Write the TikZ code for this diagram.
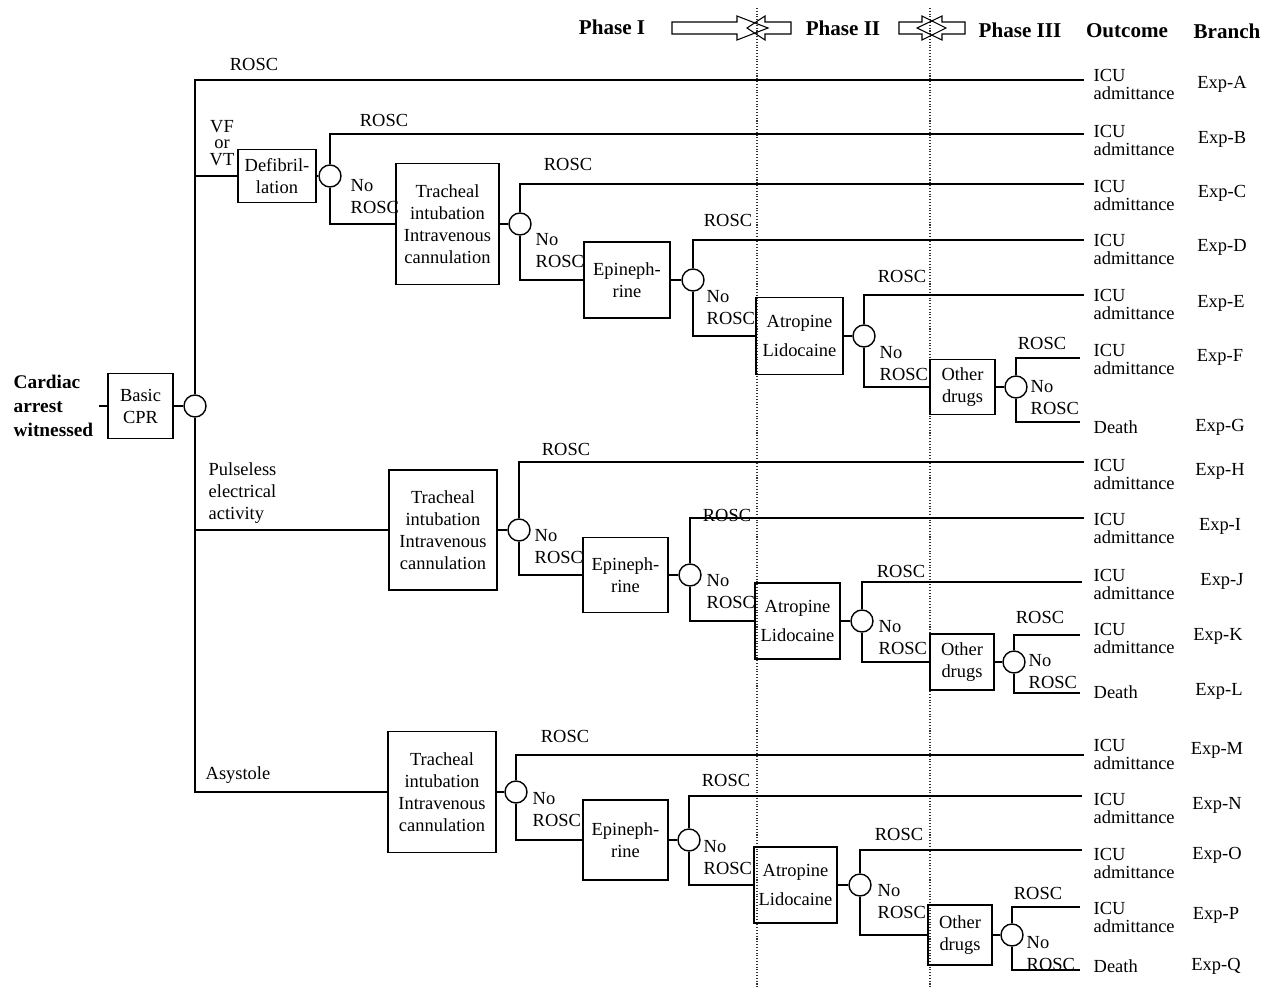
\documentclass[tikz,border=0pt]{standalone}
\usepackage{fontspec}
\setmainfont{Liberation Serif}

\begin{document}
\begin{tikzpicture}[x=0.02cm,y=-0.02cm,thick,font=\fontsize{10.5}{12.5}\selectfont]
\tikzstyle{actbox}=[draw, rectangle, align=center, inner sep=1pt]
\tikzstyle{chance}=[draw, circle, minimum size=0.44cm, inner sep=0pt]
\tikzstyle{lbl}=[inner sep=0pt, align=left]
\tikzstyle{icu}=[lbl, anchor=north west, font=\fontsize{10.5}{10}\selectfont]
\tikzstyle{hdr}=[inner sep=0pt, font=\fontsize{12}{14}\selectfont\bfseries]
\tikzstyle{phase}=[densely dotted, line width=0.6pt, black!80]
\useasboundingbox (0,0) rectangle (1276,988);

% phase borders
\draw[phase] (757,8) -- (757,988);
\draw[phase] (930,8) -- (930,988);

% header
\node[hdr] (ph1) at (612,27) {Phase I};
\node[hdr] (ph2) at (843,28) {Phase II};
\node[hdr] (ph3) at (1020,30) {Phase III};
\node[hdr] (hout) at (1127,31) {Outcome};
\node[hdr] (hbr) at (1227,31) {Branch};
\draw[semithick] (672,22) -- (737,22) -- (737,16) -- (768,28) -- (737,40) -- (737,34) -- (672,34) -- cycle;
\draw[semithick] (791,22) -- (765,22) -- (765,16) -- (747,28) -- (765,40) -- (765,34) -- (791,34) -- cycle;
\draw[semithick] (899,22) -- (922,22) -- (922,16) -- (946,28) -- (922,40) -- (922,34) -- (899,34) -- cycle;
\draw[semithick] (965,22) -- (942,22) -- (942,16) -- (917,28) -- (942,40) -- (942,34) -- (965,34) -- cycle;

% start
\node[lbl, anchor=west, font=\fontsize{11}{13.6}\selectfont\bfseries] (start) at (13,406) {Cardiac\\arrest\\witnessed};
\node[actbox, minimum width=1.30cm, minimum height=1.30cm] (cpr) at (140.5,406) {Basic\\CPR};
\node[chance] (c0) at (195,406) {};

% VF or VT
\node[actbox, minimum width=1.56cm, minimum height=1.06cm] (defib) at (277,176) {Defibril-\\lation};
\node[chance] (c1) at (330,176) {};
\node[actbox, minimum width=2.06cm, minimum height=2.42cm] (tr1) at (447.5,224) {Tracheal\\intubation\\Intravenous\\cannulation};
\node[chance] (c2) at (520,224) {};
\node[actbox, minimum width=1.72cm, minimum height=1.52cm] (epi1) at (627,280) {Epineph-\\rine};
\node[chance] (c3) at (693,280) {};
\node[actbox, minimum width=1.74cm, minimum height=1.54cm] (atr1) at (799.5,336) {Atropine\\[4.5pt]Lidocaine};
\node[chance] (c4) at (864,336) {};
\node[actbox, minimum width=1.30cm, minimum height=1.10cm] (oth1) at (962.5,387) {Other\\drugs};
\node[chance] (c5) at (1016,387) {};

% pulseless electrical activity
\node[actbox, minimum width=2.16cm, minimum height=2.40cm] (tr2) at (443,530) {Tracheal\\intubation\\Intravenous\\cannulation};
\node[chance] (c6) at (519,530) {};
\node[actbox, minimum width=1.70cm, minimum height=1.50cm] (epi2) at (625.5,575) {Epineph-\\rine};
\node[chance] (c7) at (690,575) {};
\node[actbox, minimum width=1.70cm, minimum height=1.52cm] (atr2) at (797.5,621) {Atropine\\[4.5pt]Lidocaine};
\node[chance] (c8) at (862,621) {};
\node[actbox, minimum width=1.28cm, minimum height=1.12cm] (oth2) at (962,662) {Other\\drugs};
\node[chance] (c9) at (1014,662) {};

% asystole
\node[actbox, minimum width=2.16cm, minimum height=2.42cm] (tr3) at (442,792) {Tracheal\\intubation\\Intravenous\\cannulation};
\node[chance] (c10) at (516,792) {};
\node[actbox, minimum width=1.70cm, minimum height=1.60cm] (epi3) at (625.5,840) {Epineph-\\rine};
\node[chance] (c11) at (689,840) {};
\node[actbox, minimum width=1.66cm, minimum height=1.52cm] (atr3) at (795.5,885) {Atropine\\[4.5pt]Lidocaine};
\node[chance] (c12) at (860,885) {};
\node[actbox, minimum width=1.28cm, minimum height=1.20cm] (oth3) at (960,935) {Other\\drugs};
\node[chance] (c13) at (1012,935) {};

% ends of the branches
\coordinate (eA) at (1084,80);
\coordinate (eB) at (1084,134);
\coordinate (eC) at (1084,184);
\coordinate (eD) at (1084,240);
\coordinate (eE) at (1084,295);
\coordinate (eF) at (1080,358);
\coordinate (eG) at (1080,422);
\coordinate (eH) at (1084,462);
\coordinate (eI) at (1084,518);
\coordinate (eJ) at (1082,582);
\coordinate (eK) at (1080,635);
\coordinate (eL) at (1080,693);
\coordinate (eM) at (1084,755);
\coordinate (eN) at (1082,796);
\coordinate (eO) at (1082,850);
\coordinate (eP) at (1080,907);
\coordinate (eQ) at (1080,970);

% connectors
\draw[shorten <=3pt] (start.east) -- (cpr);
\draw (cpr) -- (c0);
\draw (c0.north) |- (eA);
\draw (c0.north) |- (defib.west);
\draw (c0.south) |- (tr2.west);
\draw (c0.south) |- (tr3.west);
\draw (defib) -- (c1);
\draw (c1.north) |- (eB);
\draw (c1.south) |- (tr1.west);
\draw (tr1) -- (c2);
\draw (c2.north) |- (eC);
\draw (c2.south) |- (epi1.west);
\draw (epi1) -- (c3);
\draw (c3.north) |- (eD);
\draw (c3.south) |- (atr1.west);
\draw (atr1) -- (c4);
\draw (c4.north) |- (eE);
\draw (c4.south) |- (oth1.west);
\draw (oth1) -- (c5);
\draw (c5.north) |- (eF);
\draw (c5.south) |- (eG);
\draw (tr2) -- (c6);
\draw (c6.north) |- (eH);
\draw (c6.south) |- (epi2.west);
\draw (epi2) -- (c7);
\draw (c7.north) |- (eI);
\draw (c7.south) |- (atr2.west);
\draw (atr2) -- (c8);
\draw (c8.north) |- (eJ);
\draw (c8.south) |- (oth2.west);
\draw (oth2) -- (c9);
\draw (c9.north) |- (eK);
\draw (c9.south) |- (eL);
\draw (tr3) -- (c10);
\draw (c10.north) |- (eM);
\draw (c10.south) |- (epi3.west);
\draw (epi3) -- (c11);
\draw (c11.north) |- (eN);
\draw (c11.south) |- (atr3.west);
\draw (atr3) -- (c12);
\draw (c12.north) |- (eO);
\draw (c12.south) |- (oth3.west);
\draw (oth3) -- (c13);
\draw (c13.north) |- (eP);
\draw (c13.south) |- (eQ);

% branch labels
\node[lbl, align=center, font=\fontsize{10.5}{9.6}\selectfont] (vf) at (222,143) {VF\\or\\VT};
\node[lbl, anchor=north west] (pea) at (208,462) {Pulseless\\electrical\\activity};
\node[lbl] (asy) at (238,775) {Asystole};

% ROSC labels
\node[lbl] (rA) at (254,64) {ROSC};
\node[lbl] (rB) at (384,120) {ROSC};
\node[lbl] (rC) at (568,164) {ROSC};
\node[lbl] (rD) at (728,220) {ROSC};
\node[lbl] (rE) at (902,276) {ROSC};
\node[lbl] (rF) at (1042,343) {ROSC};
\node[lbl] (rH) at (566,449) {ROSC};
\node[lbl] (rI) at (727,515) {ROSC};
\node[lbl] (rJ) at (901,571) {ROSC};
\node[lbl] (rK) at (1040,617) {ROSC};
\node[lbl] (rM) at (565,736) {ROSC};
\node[lbl] (rN) at (726,780) {ROSC};
\node[lbl] (rO) at (899,834) {ROSC};
\node[lbl] (rP) at (1038,893) {ROSC};

% No ROSC labels
\node[lbl, anchor=north west] (n1) at (350,179) {No\\ROSC};
\node[lbl, anchor=north west] (n2) at (535,233) {No\\ROSC};
\node[lbl, anchor=north west] (n3) at (706,290) {No\\ROSC};
\node[lbl, anchor=north west] (n4) at (879,346) {No\\ROSC};
\node[lbl, anchor=north west] (n5) at (1030,380) {No\\ROSC};
\node[lbl, anchor=north west] (n6) at (534,529) {No\\ROSC};
\node[lbl, anchor=north west] (n7) at (706,574) {No\\ROSC};
\node[lbl, anchor=north west] (n8) at (878,620) {No\\ROSC};
\node[lbl, anchor=north west] (n9) at (1028,654) {No\\ROSC};
\node[lbl, anchor=north west] (n10) at (532,792) {No\\ROSC};
\node[lbl, anchor=north west] (n11) at (703,840) {No\\ROSC};
\node[lbl, anchor=north west] (n12) at (877,884) {No\\ROSC};
\node[lbl, anchor=north west] (n13) at (1026,936) {No\\ROSC};

% outcomes
\node[icu] (oA) at (1093,69) {ICU\\admittance};
\node[icu] (oB) at (1093,125) {ICU\\admittance};
\node[icu] (oC) at (1093,180) {ICU\\admittance};
\node[icu] (oD) at (1093,234) {ICU\\admittance};
\node[icu] (oE) at (1093,289) {ICU\\admittance};
\node[icu] (oF) at (1093,344) {ICU\\admittance};
\node[lbl, anchor=west] (oG) at (1093,427) {Death};
\node[icu] (oH) at (1093,459) {ICU\\admittance};
\node[icu] (oI) at (1093,513) {ICU\\admittance};
\node[icu] (oJ) at (1093,569) {ICU\\admittance};
\node[icu] (oK) at (1093,623) {ICU\\admittance};
\node[lbl, anchor=west] (oL) at (1093,692) {Death};
\node[icu] (oM) at (1093,739) {ICU\\admittance};
\node[icu] (oN) at (1093,793) {ICU\\admittance};
\node[icu] (oO) at (1093,848) {ICU\\admittance};
\node[icu] (oP) at (1093,902) {ICU\\admittance};
\node[lbl, anchor=west] (oQ) at (1093,966) {Death};

% branch names
\node[lbl] (xA) at (1222,84) {Exp-A};
\node[lbl] (xB) at (1222,139) {Exp-B};
\node[lbl] (xC) at (1222,193) {Exp-C};
\node[lbl] (xD) at (1222,247) {Exp-D};
\node[lbl] (xE) at (1221,303) {Exp-E};
\node[lbl] (xF) at (1220,357) {Exp-F};
\node[lbl] (xG) at (1220,427) {Exp-G};
\node[lbl] (xH) at (1220,471) {Exp-H};
\node[lbl] (xI) at (1220,526) {Exp-I};
\node[lbl] (xJ) at (1222,581) {Exp-J};
\node[lbl] (xK) at (1218,636) {Exp-K};
\node[lbl] (xL) at (1219,691) {Exp-L};
\node[lbl] (xM) at (1217,750) {Exp-M};
\node[lbl] (xN) at (1217,805) {Exp-N};
\node[lbl] (xO) at (1217,855) {Exp-O};
\node[lbl] (xP) at (1216,915) {Exp-P};
\node[lbl] (xQ) at (1216,966) {Exp-Q};
\end{tikzpicture}
\end{document}
